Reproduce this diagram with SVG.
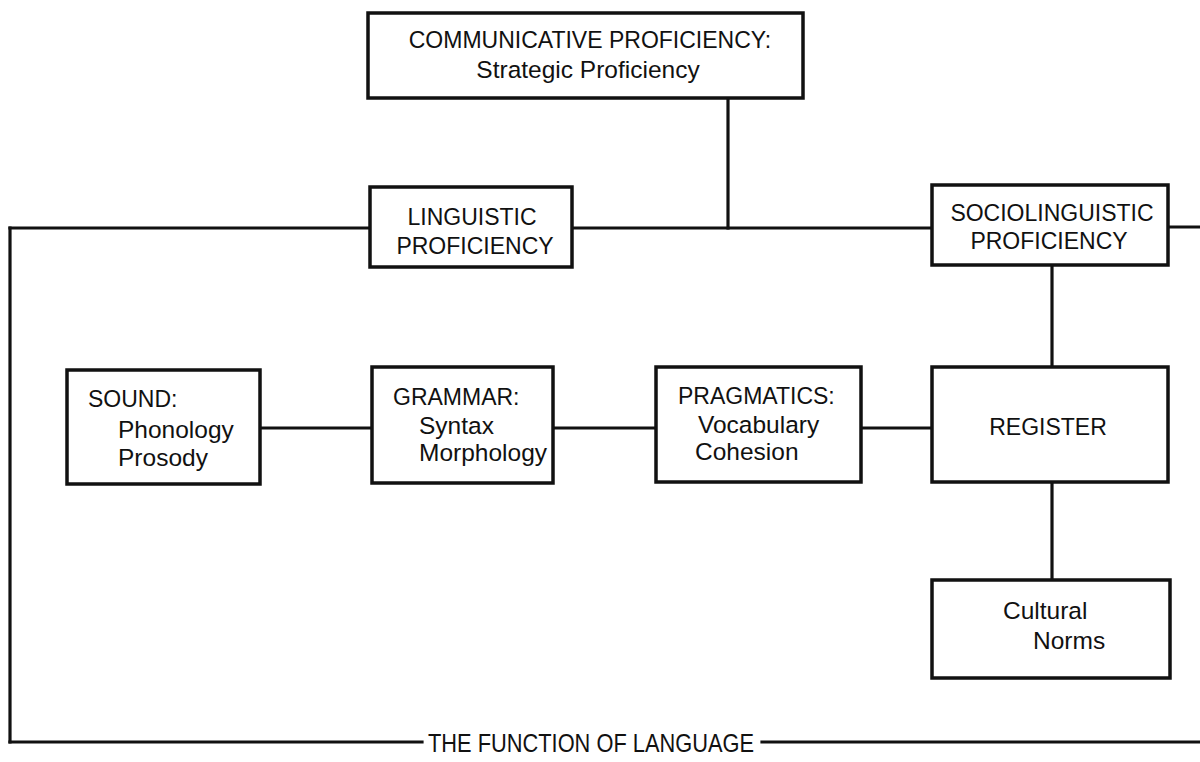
<svg xmlns="http://www.w3.org/2000/svg" width="1200" height="762" viewBox="0 0 1200 762">
<style>
.box{fill:#fff;stroke:#111;stroke-width:3.5}
.ln{fill:none;stroke:#111;stroke-width:3.2;stroke-linecap:square}
text{font-family:"Liberation Sans",Arial,sans-serif;fill:#111}
.cap{font-size:23px}
.low{font-size:24.5px}
.mid{text-anchor:middle}
</style>
<rect width="1200" height="762" fill="#fff"/>
<g id="connectors">
<line class="ln" x1="728" y1="98" x2="728" y2="228"/>
<line class="ln" x1="572" y1="228" x2="932" y2="228"/>
<line class="ln" x1="10" y1="228" x2="370" y2="228"/>
<line class="ln" x1="1168" y1="227" x2="1200" y2="227"/>
<line class="ln" x1="10" y1="228" x2="10" y2="742"/>
<line class="ln" x1="10" y1="742" x2="422" y2="742"/>
<line class="ln" x1="762" y1="742" x2="1200" y2="742"/>
<line class="ln" x1="1052" y1="265" x2="1052" y2="367"/>
<line class="ln" x1="1052" y1="482" x2="1052" y2="580"/>
<line class="ln" x1="260" y1="428" x2="372" y2="428"/>
<line class="ln" x1="553" y1="428" x2="656" y2="428"/>
<line class="ln" x1="861" y1="428" x2="932" y2="428"/>
</g>
<g id="communicative">
<rect class="box" x="368" y="13" width="435" height="85"/>
<text class="cap mid" x="590" y="48">COMMUNICATIVE PROFICIENCY:</text>
<text class="low mid" x="588" y="78">Strategic Proficiency</text>
</g>
<g id="linguistic">
<rect class="box" x="370" y="187" width="202" height="80"/>
<text class="cap mid" x="472" y="225">LINGUISTIC</text>
<text class="cap mid" x="475" y="254">PROFICIENCY</text>
</g>
<g id="sociolinguistic">
<rect class="box" x="932" y="185" width="236" height="80"/>
<text class="cap mid" x="1052" y="221">SOCIOLINGUISTIC</text>
<text class="cap mid" x="1049" y="249">PROFICIENCY</text>
</g>
<g id="sound">
<rect class="box" x="67" y="370" width="193" height="114"/>
<text class="cap" x="88" y="407">SOUND:</text>
<text class="low" x="118" y="438">Phonology</text>
<text class="low" x="118" y="466">Prosody</text>
</g>
<g id="grammar">
<rect class="box" x="372" y="367" width="181" height="116"/>
<text class="cap" x="393" y="405">GRAMMAR:</text>
<text class="low" x="419" y="434">Syntax</text>
<text class="low" x="419" y="461">Morphology</text>
</g>
<g id="pragmatics">
<rect class="box" x="656" y="367" width="205" height="115"/>
<text class="cap" x="678" y="404">PRAGMATICS:</text>
<text class="low" x="698" y="433">Vocabulary</text>
<text class="low" x="695" y="460">Cohesion</text>
</g>
<g id="register">
<rect class="box" x="932" y="367" width="236" height="115"/>
<text class="cap mid" x="1048" y="435">REGISTER</text>
</g>
<g id="cultural">
<rect class="box" x="932" y="580" width="238" height="98"/>
<text class="low" x="1003" y="619">Cultural</text>
<text class="low" x="1033" y="649">Norms</text>
</g>
<g id="function">
<text x="428" y="752" font-size="25" textLength="326" lengthAdjust="spacingAndGlyphs">THE FUNCTION OF LANGUAGE</text>
</g>
</svg>
